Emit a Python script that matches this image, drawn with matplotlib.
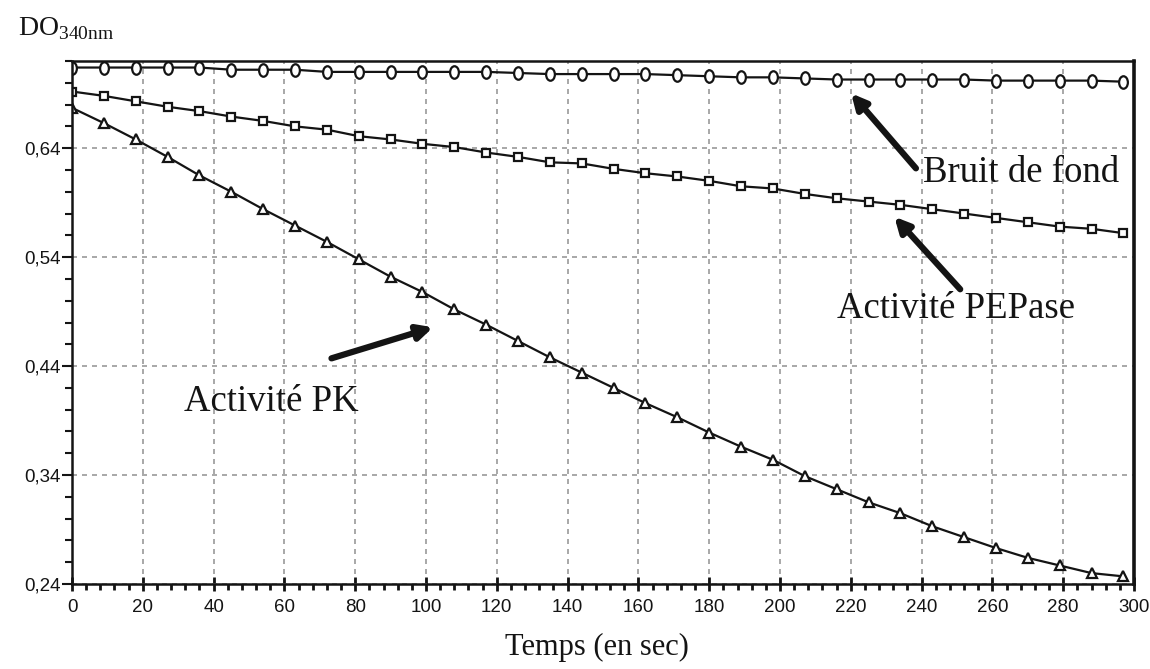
import numpy as np
import matplotlib
matplotlib.use('Agg')
import matplotlib.pyplot as plt
from matplotlib.path import Path
from matplotlib.transforms import Affine2D
from matplotlib.ticker import MultipleLocator, FuncFormatter

# temps de mesure (s), un point toutes les 9 s
temps = [0, 9, 18, 27, 36, 45, 54, 63, 72, 81, 90, 99, 108, 117, 126, 135, 144,
         153, 162, 171, 180, 189, 198, 207, 216, 225, 234, 243, 252, 261, 270,
         279, 288, 297]

do_bruit = [0.714, 0.714, 0.714, 0.714, 0.714, 0.712, 0.712, 0.712, 0.710, 0.710,
            0.710, 0.710, 0.710, 0.710, 0.709, 0.708, 0.708, 0.708, 0.708, 0.707,
            0.706, 0.705, 0.705, 0.704, 0.703, 0.703, 0.703, 0.703, 0.703, 0.702,
            0.702, 0.702, 0.702, 0.701]

do_pepase = [0.692, 0.688, 0.683, 0.678, 0.674, 0.669, 0.665, 0.660, 0.657, 0.651,
             0.648, 0.644, 0.641, 0.636, 0.632, 0.627, 0.626, 0.621, 0.617, 0.614,
             0.610, 0.605, 0.603, 0.598, 0.594, 0.591, 0.588, 0.584, 0.580, 0.576,
             0.572, 0.568, 0.566, 0.562]

do_pk = [0.677, 0.663, 0.648, 0.632, 0.615, 0.600, 0.584, 0.569, 0.554, 0.538,
         0.522, 0.508, 0.492, 0.478, 0.463, 0.448, 0.434, 0.420, 0.406, 0.393,
         0.379, 0.366, 0.354, 0.339, 0.327, 0.315, 0.305, 0.293, 0.283, 0.273,
         0.264, 0.257, 0.250, 0.247]

y_ticks = [0.24, 0.34, 0.44, 0.54, 0.64]
x_ticks = list(range(0, 301, 20))

serif = 'Liberation Serif'
ink = '#141414'

plt.rcParams['font.family'] = ['Liberation Sans', 'DejaVu Sans']
plt.rcParams['mathtext.fontset'] = 'custom'
plt.rcParams['mathtext.rm'] = serif

fig = plt.figure(figsize=(11.5, 6.69), dpi=100)
ax = fig.add_axes([72 / 1150, 1 - 584 / 669, (1134 - 72) / 1150, (584 - 61) / 669])

# petits ovales pour le bruit de fond
oval = Path.unit_circle().transformed(Affine2D().scale(0.7, 1.0))

line_kw = dict(color=ink, lw=1.6, markerfacecolor='white',
               markeredgecolor=ink, markeredgewidth=1.6)
ax.plot(temps, do_bruit, marker=oval, markersize=9, **line_kw)
ax.plot(temps, do_pepase, marker='s', markersize=6, **line_kw)
ax.plot(temps, do_pk, marker='^', markersize=7, **line_kw)

ax.set_xlim(0, 300)
ax.set_ylim(0.24, 0.72)
ax.set_xticks(x_ticks)
ax.set_yticks(y_ticks)
ax.xaxis.set_minor_locator(MultipleLocator(4))
ax.yaxis.set_minor_locator(MultipleLocator(0.02))
ax.yaxis.set_major_formatter(FuncFormatter(lambda v, p: f'{v:.2f}'.replace('.', ',')))

ax.grid(True, which='major', color='#9a9a9a', linestyle=(0, (3, 3)), lw=1.2)
ax.set_axisbelow(True)

ax.tick_params(axis='x', which='major', direction='inout', length=10, width=2,
               labelsize=13.5, pad=6, colors=ink)
ax.tick_params(axis='x', which='minor', direction='out', length=4, width=2,
               colors=ink)
ax.tick_params(axis='y', which='major', direction='out', length=7, width=1.5,
               labelsize=13.5, pad=1, colors=ink)
ax.tick_params(axis='y', which='minor', direction='out', length=5, width=1.5,
               colors=ink)

for side in ['left', 'bottom', 'top']:
    ax.spines[side].set_linewidth(1.8)
    ax.spines[side].set_color(ink)
ax.spines['right'].set_linewidth(2.6)
ax.spines['right'].set_color(ink)

# annotations
txt_kw = dict(family=serif, fontsize=26.5, color=ink, va='baseline', ha='left')
ax.text(240.5, 0.6085, 'Bruit de fond', **txt_kw)
ax.text(216, 0.484, 'Activité PEPase', **txt_kw)
ax.text(31.7, 0.399, 'Activité PK', **txt_kw)

arrow_kw = dict(arrowstyle='-|>', color=ink, lw=4.5, mutation_scale=22,
                shrinkA=0, shrinkB=0)
ax.annotate('', xy=(220.1, 0.6903), xytext=(238.4, 0.6215), arrowprops=arrow_kw)
ax.annotate('', xy=(232.3, 0.5771), xytext=(250.9, 0.5105), arrowprops=arrow_kw)
ax.annotate('', xy=(102.0, 0.4756), xytext=(73.3, 0.4471), arrowprops=arrow_kw)

fig.text(18 / 1150, 1 - 35 / 669, r'DO$_{\mathrm{340nm}}$', family=serif, fontsize=20,
         color=ink, ha='left', va='baseline')
fig.text(597 / 1150, 1 - 655 / 669, 'Temps (en sec)', family=serif, fontsize=22,
         color=ink, ha='center', va='baseline')

fig.savefig('out.png', dpi=100)
